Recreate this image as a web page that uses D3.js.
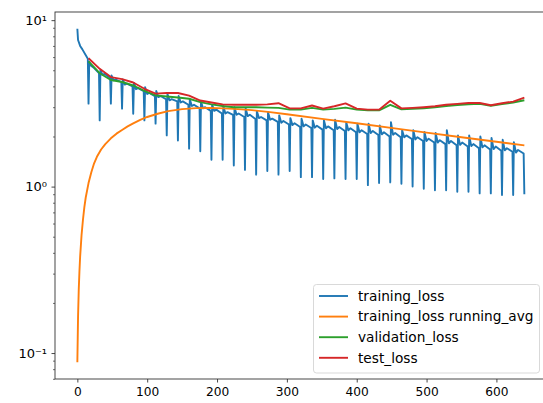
<!DOCTYPE html>
<html><head><meta charset="utf-8">
<script src="https://cdn.jsdelivr.net/npm/d3@7/dist/d3.min.js"></script>
<style>
body{margin:0;background:#fff}
svg{display:block}
text{font-family:"DejaVu Sans",sans-serif;fill:#000}
</style>
</head><body>
<svg id="chart" width="543" height="403"></svg>
<script>
// ---- data ----
const seriesNames = ["training_loss", "training_loss running_avg", "validation_loss", "test_loss"];
const seriesColors = ["#1f77b4", "#ff7f0e", "#2ca02c", "#d62728"];
const xTicks = [0, 100, 200, 300, 400, 500, 600];
const yTicks = [0.1, 1, 10];
const yTickLabels = ["10\u207B\u00B9", "10\u2070", "10\u00B9"];

// evaluation points (end of each epoch, 16 steps per epoch)
const evalSteps = [16,32,48,64,80,96,112,128,144,160,176,192,208,224,240,256,272,288,304,320,
                   336,352,368,384,400,416,432,448,464,480,496,512,528,544,560,576,592,608,624,640];
const validationLoss = [5.65,4.8,4.37,4.25,4.05,3.76,3.53,3.48,3.43,3.37,3.22,3.12,3.05,3.0,3.0,3.0,2.98,2.97,2.9,2.9,
                        2.97,2.9,2.93,2.98,2.9,2.87,2.87,3.1,2.91,2.93,2.95,2.99,3.05,3.09,3.12,3.14,3.06,3.13,3.2,3.3];
const testLoss = [5.9,5.1,4.55,4.42,4.22,3.87,3.62,3.65,3.65,3.52,3.29,3.2,3.12,3.1,3.1,3.1,3.12,3.17,2.95,2.95,
                  3.07,2.94,3.04,3.16,2.94,2.9,2.9,3.28,2.95,2.97,3.0,3.04,3.1,3.14,3.18,3.18,3.08,3.17,3.24,3.42];

// training loss: first step, then per-epoch vertices (peak after restart, dip, bump, before end, end-of-epoch drop)
const trainFirst = 8.88;
const trainOffsets = [1, 4, 7, 15, 16];
const trainTop  = [7.6,5.6,5.0,4.65,4.4,4.2,3.95,3.75,3.6,3.5,3.35,3.25,3.1,3.05,3.0,2.95,2.85,2.8,2.68,2.58,
                   2.56,2.5,2.5,2.52,2.44,2.39,2.39,2.33,2.44,2.18,2.18,2.13,2.1,2.18,2.03,2.03,2.0,1.96,1.91,1.85];
const trainDip  = [7.0,5.3,4.7,4.35,4.1,3.85,3.6,3.45,3.3,3.2,3.05,2.95,2.85,2.75,2.7,2.65,2.58,2.52,2.42,2.34,
                   2.3,2.26,2.24,2.22,2.18,2.12,2.1,2.06,2.05,1.98,1.92,1.88,1.84,1.82,1.78,1.75,1.72,1.68,1.65,1.6];
const trainBump = [6.7,5.2,4.75,4.4,4.15,3.9,3.65,3.5,3.35,3.25,3.1,3.0,2.9,2.8,2.75,2.7,2.62,2.56,2.48,2.4,
                   2.36,2.32,2.3,2.28,2.24,2.18,2.16,2.12,2.1,2.03,1.98,1.94,1.9,1.88,1.84,1.8,1.77,1.74,1.7,1.66];
const trainPre  = [5.86,4.8,4.5,4.25,4.0,3.75,3.5,3.35,3.25,3.1,2.95,2.85,2.75,2.7,2.62,2.55,2.5,2.45,2.36,2.28,
                   2.25,2.2,2.18,2.16,2.12,2.07,2.04,2.0,1.98,1.93,1.88,1.84,1.8,1.77,1.74,1.7,1.67,1.64,1.62,1.58];
const trainLow  = [3.15,2.5,3.15,2.94,2.74,2.5,2.39,2.03,1.89,1.69,1.63,1.45,1.45,1.34,1.26,1.18,1.24,1.18,1.24,1.14,
                   1.14,1.11,1.12,1.11,1.11,1.02,1.05,1.06,1.04,1.0,0.97,0.95,0.95,0.93,0.93,0.91,0.91,0.89,0.89,0.9];

// running average of training loss
const avgSteps  = [0,1,2,3,4,6,8,10,12,16,20,24,28,34,40,48,56,64,72,80,90,100,115,130,150,170,190,210,230,250,276,300,350,400,457,500,550,600,640];
const avgValues = [0.088,0.165,0.24,0.31,0.38,0.51,0.63,0.75,0.86,1.05,1.22,1.38,1.51,1.67,1.8,1.95,2.08,2.19,2.3,2.4,2.52,2.62,2.74,2.84,2.92,2.96,2.97,2.95,2.92,2.88,2.8,2.72,2.55,2.4,2.23,2.11,1.98,1.86,1.77];

// ---- build series ----
const trainSeries = [[0, trainFirst]];
trainTop.forEach((t, i) => {
  const s0 = 16 * i;
  const vals = [t, trainDip[i], trainBump[i], trainPre[i], trainLow[i]];
  trainOffsets.forEach((o, j) => trainSeries.push([s0 + o, vals[j]]));
});
const avgSeries = avgSteps.map((s, i) => [s, avgValues[i]]);
const valSeries = evalSteps.map((s, i) => [s, validationLoss[i]]);
const testSeries = evalSteps.map((s, i) => [s, testLoss[i]]);
const allSeries = [trainSeries, avgSeries, valSeries, testSeries];

// ---- layout ----
const L = 55, R = 546.7, T = 12, B = 379;
const svg = d3.select("#chart");
const x = d3.scaleLinear().domain([-32, 672]).range([L, R]);
const y = d3.scaleLog().domain([Math.pow(10, -1.156), Math.pow(10, 1.049)]).range([B, T]);

const plot = svg.append("g");
svg.append("defs").append("clipPath").attr("id", "clip")
  .append("rect").attr("x", L).attr("y", T).attr("width", R - L).attr("height", B - T);

const line = d3.line().x(d => x(d[0])).y(d => y(d[1]));
const lines = plot.append("g").attr("clip-path", "url(#clip)");
allSeries.forEach((s, i) => {
  lines.append("path").datum(s).attr("d", line)
    .attr("fill", "none").attr("stroke", seriesColors[i])
    .attr("stroke-width", 1.9).attr("stroke-linejoin", "round").attr("stroke-linecap", "butt");
});

// axes
const xAxis = d3.axisBottom(x).tickValues(xTicks).tickSize(3.5).tickPadding(4.5).tickFormat(d3.format("d"));
const gx = svg.append("g").attr("transform", `translate(0,${B})`).call(xAxis);
gx.select(".domain").remove();
gx.selectAll("line").attr("stroke", "#333").attr("stroke-width", 0.9);
gx.selectAll("text").attr("font-size", 12.2).attr("fill", "#000").style("font-family", "DejaVu Sans");

const minorVals = [];
[0.01, 0.1, 1].forEach(dec => { for (let m = 2; m <= 9; m++) minorVals.push(m * dec); });
const yDom = y.domain();
const minorIn = minorVals.filter(v => v >= yDom[0] && v <= yDom[1]);
const yMinor = d3.axisLeft(y).tickValues(minorIn).tickSize(2).tickFormat("");
const gym = svg.append("g").attr("transform", `translate(${L},0)`).call(yMinor);
gym.select(".domain").remove();
gym.selectAll("line").attr("stroke", "#333").attr("stroke-width", 0.7);

const yAxis = d3.axisLeft(y).tickValues(yTicks).tickSize(3.5).tickPadding(4.5)
  .tickFormat((d, i) => yTickLabels[i]);
const gy = svg.append("g").attr("transform", `translate(${L},0)`).call(yAxis);
gy.select(".domain").remove();
gy.selectAll("line").attr("stroke", "#333").attr("stroke-width", 0.9);
gy.selectAll("text").attr("font-size", 13).attr("fill", "#000").style("font-family", "DejaVu Sans");

// spines
svg.append("rect").attr("x", L).attr("y", T).attr("width", R - L).attr("height", B - T)
  .attr("fill", "none").attr("stroke", "#333").attr("stroke-width", 0.9);

// legend
const lg = svg.append("g");
lg.append("rect").attr("x", 313.5).attr("y", 284.5).attr("width", 226).attr("height", 88.5)
  .attr("rx", 3).attr("fill", "#fff").attr("fill-opacity", 0.8)
  .attr("stroke", "#d5d5d5").attr("stroke-width", 0.9);
const rowY = [296, 316.6, 337.2, 357.8];
seriesNames.forEach((n, i) => {
  lg.append("line").attr("x1", 319).attr("x2", 348).attr("y1", rowY[i]).attr("y2", rowY[i])
    .attr("stroke", seriesColors[i]).attr("stroke-width", 1.9);
  lg.append("text").attr("x", 358).attr("y", rowY[i] + 4.8).attr("font-size", 13.7).text(n);
});
</script>
</body></html>
